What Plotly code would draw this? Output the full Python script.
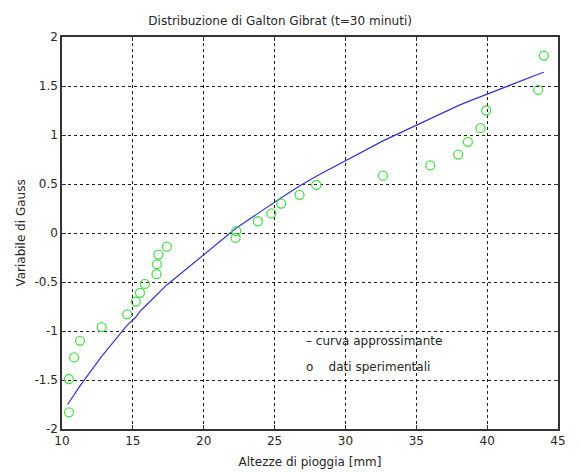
import plotly.graph_objects as go

# Experimental data (Altezze di pioggia [mm], Variabile di Gauss)
data_x = [10.49, 10.49, 10.85, 11.27, 12.8, 14.6, 15.2, 15.5, 15.85, 16.67, 16.7, 16.8, 17.4,
          22.25, 22.3, 23.82, 24.77, 25.47, 26.76, 27.94, 32.65, 35.99, 37.96, 38.64, 39.53,
          39.93, 43.6, 44.0]
data_y = [-1.83, -1.49, -1.27, -1.10, -0.96, -0.83, -0.70, -0.61, -0.52, -0.42, -0.32, -0.22, -0.14,
          -0.05, 0.02, 0.12, 0.20, 0.30, 0.39, 0.49, 0.585, 0.69, 0.80, 0.93, 1.07,
          1.25, 1.46, 1.81]

# Approximating curve
curve_x = [10.4, 10.85, 11.27, 12.8, 14.6, 15.2, 15.5, 15.85, 16.67, 17.4,
           22.3, 23.82, 24.77, 25.47, 26.76, 27.94, 32.65, 35.99, 37.96, 38.64, 39.53,
           39.93, 43.6, 44.0]
curve_y = [-1.75, -1.65, -1.56, -1.26, -0.94, -0.86, -0.80, -0.75, -0.63, -0.53,
           0.05, 0.20, 0.30, 0.36, 0.48, 0.58, 0.94, 1.17, 1.30, 1.34, 1.39,
           1.42, 1.62, 1.64]

x_ticks = [10, 15, 20, 25, 30, 35, 40, 45]
y_ticks = [-2, -1.5, -1, -0.5, 0, 0.5, 1, 1.5, 2]
y_tick_text = ["-2", "-1.5", "-1", "-0.5", "0", "0.5", "1", "1.5", "2"]

title_text = "Distribuzione di Galton Gibrat (t=30 minuti)"
x_title = "Altezze di pioggia [mm]"
y_title = "Variabile di Gauss"
legend_lines = ["\u2013 curva approssimante", "o    dati sperimentali"]
legend_y = [-1.1, -1.37]

FONT = "DejaVu Sans, sans-serif"
TXT = "#262626"

fig = go.Figure()
fig.add_trace(go.Scatter(x=curve_x, y=curve_y, mode="lines",
                         line=dict(color="#3434cc", width=1.2), showlegend=False))
fig.add_trace(go.Scatter(x=data_x, y=data_y, mode="markers",
                         marker=dict(symbol="circle-open", size=9, color="#4ede4e",
                                     line=dict(width=1.3, color="#4ede4e")),
                         showlegend=False))

axis_common = dict(showline=True, linecolor="#333333", linewidth=1.5, mirror="ticks",
                   ticks="inside", ticklen=4, tickcolor="#333333",
                   showgrid=True, gridcolor="#1a1a1a", gridwidth=1, griddash="dot",
                   zeroline=False, layer="below traces", automargin=False,
                   tickfont=dict(family=FONT, size=12, color=TXT))

fig.update_xaxes(range=[10, 45], tickvals=x_ticks, ticktext=[str(v) for v in x_ticks],
                 title=dict(text=x_title, font=dict(family=FONT, size=12, color=TXT),
                            standoff=10),
                 **axis_common)
fig.update_yaxes(range=[-2, 2], tickvals=y_ticks, ticktext=y_tick_text,
                 title=dict(text=y_title, font=dict(family=FONT, size=12, color=TXT),
                            standoff=6),
                 **axis_common)

for t, yy in zip(legend_lines, legend_y):
    fig.add_annotation(x=27.1, y=yy, xref="x", yref="y", text=t,
                       showarrow=False, xanchor="left", yanchor="middle",
                       font=dict(family=FONT, size=12, color=TXT))

fig.update_layout(
    width=580, height=473,
    margin=dict(l=62, r=22, t=37, b=44),
    paper_bgcolor="white", plot_bgcolor="white",
    title=dict(text=title_text, x=0.483, xanchor="center", y=0.957, yanchor="middle",
               font=dict(family=FONT, size=12, color=TXT)),
)

fig.write_html("out.html")
